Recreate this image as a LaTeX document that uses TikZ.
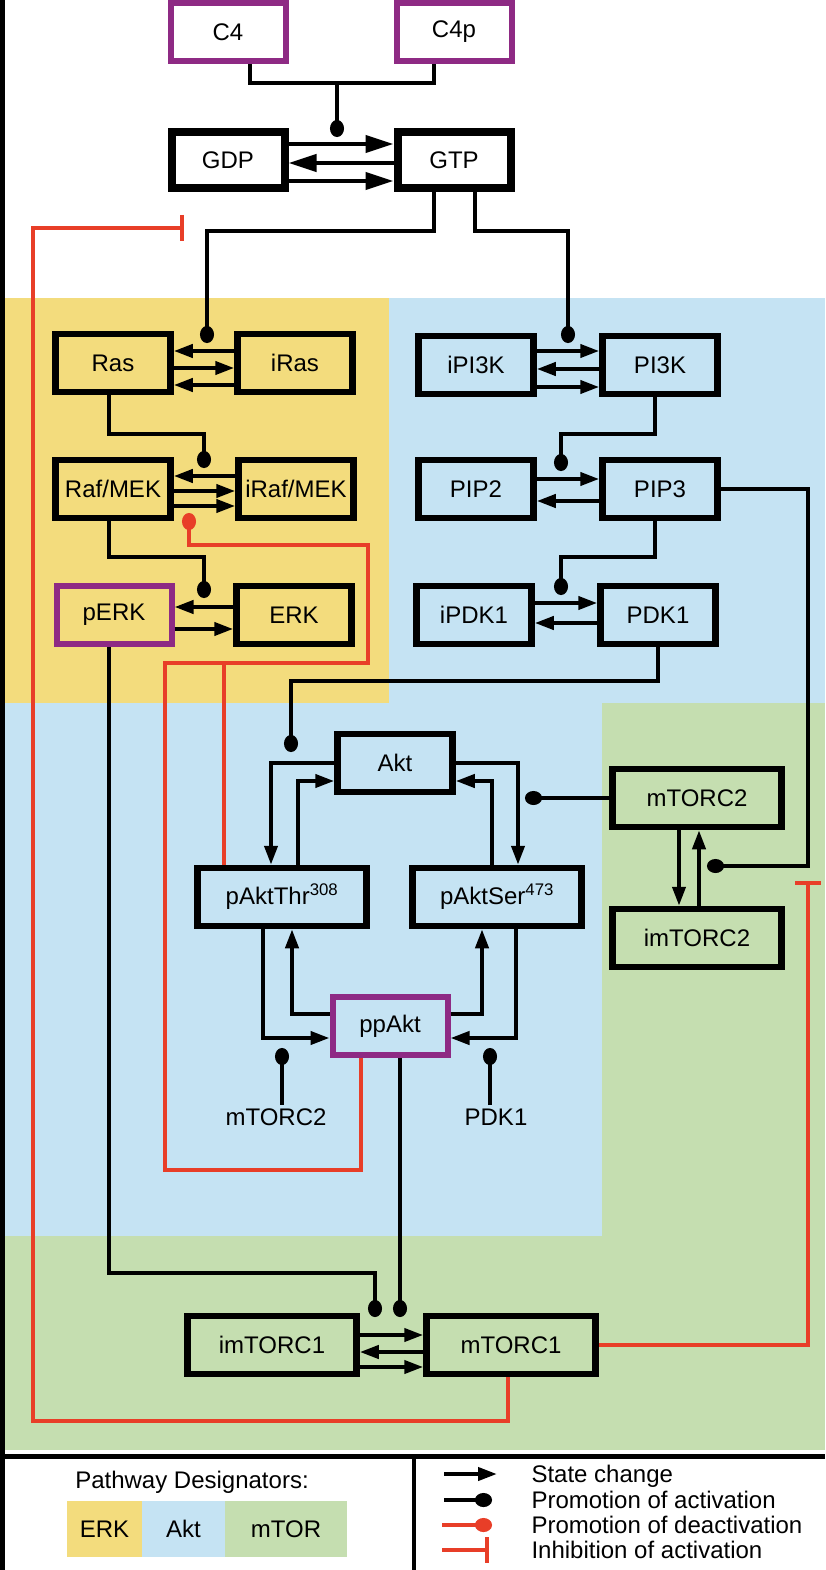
\documentclass[tikz,border=0pt]{standalone}
\usepackage{fontspec}
\setmainfont{Liberation Sans}
\usetikzlibrary{arrows.meta,positioning}
\definecolor{erkcol}{RGB}{243,220,125}
\definecolor{aktcol}{RGB}{197,227,243}
\definecolor{torcol}{RGB}{197,222,176}
\definecolor{purp}{RGB}{142,42,132}
\definecolor{redline}{RGB}{232,62,40}
\tikzset{
	x=1pt,
	y=-1pt,
	every node/.style={font=\fontsize{24}{28}\selectfont}
}
\begin{document}
\begin{tikzpicture}
  \tikzset{
    wire/.style={line width=4pt},
    change/.style={wire, -{Triangle[length=19pt,width=13pt]}},
    bigchange/.style={wire, -{Triangle[length=28pt,width=17pt]}},
    promote/.style={wire, -{Circle[length=17pt,width=14pt]}},
    deact/.style={wire, draw=redline},
    demote/.style={deact, -{Circle[length=17pt,width=14pt]}},
    inhibit/.style={deact, -{Bar[width=26pt]}},
    box/.style={draw, line width=6.5pt, minimum width=115pt,
          minimum height=58pt, inner sep=0pt},
    gbox/.style={box, line width=8pt, minimum width=113pt, minimum height=56pt},
    pbox/.style={box, draw=purp, line width=6pt},
    wbox/.style={box, minimum width=169pt},
    swatch/.style={minimum height=56pt, inner sep=0pt, outer sep=0pt}
  }
  \useasboundingbox (0,0) rectangle (825,1570);
  \fill[white] (0,0) rectangle (825,1570);

  % pathway areas
  \fill[erkcol] (0,298) rectangle (389,703);
  \fill[aktcol] (389,298) rectangle (825,703);
  \fill[aktcol] (0,703) rectangle (602,1236);
  \fill[torcol] (602,703) rectangle (825,1236);
  \fill[torcol] (0,1236) rectangle (825,1450);
  \fill[black] (0,0) rectangle (5,1570);
  \draw[line width=5pt] (0,1456) -- (825,1456);
  \draw[line width=4pt] (414,1456) -- (414,1570);

  \node[pbox] (C4) at (228,32) {C4};
  \node[pbox] (C4p) at (454,32) {C4p};
  \node[gbox] (GDP) at (228,160) {GDP};
  \node[gbox] (GTP) at (454,160) {GTP};

  \node[box] (Ras) at (113,363) {Ras};
  \node[box] (iRas) at (295,363) {iRas};
  \node[box] (RafMEK) at (113,489) {Raf/MEK};
  \node[box] (iRafMEK) at (296,489) {iRaf/MEK};
  \node[pbox] (pERK) at (114,615) {pERK};
  \node[box] (ERK) at (294,615) {ERK};

  \node[box] (iPI3K) at (476,365) {iPI3K};
  \node[box] (PI3K) at (660,365) {PI3K};
  \node[box] (PIP2) at (476,489) {PIP2};
  \node[box] (PIP3) at (660,489) {PIP3};
  \node[box] (iPDK1) at (474,615) {iPDK1};
  \node[box] (PDK1) at (658,615) {PDK1};

  \node[box] (Akt) at (395,763) {Akt};
  \node[wbox] (mTORC2) at (697,798) {mTORC2};
  \node[wbox] (imTORC2) at (697,938) {imTORC2};
  \node[wbox] (pAktThr) at (282,897) {pAktThr\textsuperscript{308}};
  \node[wbox] (pAktSer) at (497,897) {pAktSer\textsuperscript{473}};
  \node[pbox] (ppAkt) at (390,1026) {ppAkt};
  \node (tmTORC2) at (276,1117) {mTORC2};
  \node (tPDK1) at (496,1117) {PDK1};

  \node[wbox] (imTORC1) at (272,1345) {imTORC1};
  \node[wbox] (mTORC1) at (511,1345) {mTORC1};

  \coordinate (jC4) at (337,83);   \coordinate (dGDP) at (337,137);
  \coordinate (jRas) at (207,231); \coordinate (dRas) at (207,343);
  \coordinate (jPI) at (568,231);  \coordinate (dPI) at (568,343);
  \coordinate (jRaf) at (204,434); \coordinate (dRaf) at (204,468);
  \coordinate (jERK) at (204,557); \coordinate (dERK) at (204,598);
  \coordinate (jPIP) at (561,434); \coordinate (dPIP) at (561,471);
  \coordinate (jPDK) at (561,557); \coordinate (dPDK) at (561,595);
  \coordinate (jmT) at (808,866);  \coordinate (dmT) at (707,866);
  \coordinate (jAkt) at (291,681); \coordinate (dAkt) at (291,752);
  \coordinate (dSer) at (525,798);
  \coordinate (dPpThr) at (282,1048); \coordinate (dPpSer) at (490,1048);
  \coordinate (jTORa) at (375,1273);
  \coordinate (dTORa) at (375,1317); \coordinate (dTORb) at (400,1317);

  \draw[wire] ([xshift=22pt]C4.south) |- (jC4) -| ([xshift=-20pt]C4p.south);
  \draw[promote] (jC4) -- (dGDP);
  \draw[bigchange] ([yshift=16pt]GDP.east) -- ([yshift=16pt]GTP.west);
  \draw[bigchange] ([yshift=-3pt]GTP.west) -- ([yshift=-3pt]GDP.east);
  \draw[bigchange] ([yshift=-21pt]GDP.east) -- ([yshift=-21pt]GTP.west);
  \draw[promote] ([xshift=-20pt]GTP.south) |- (jRas) -- (dRas);
  \draw[promote] ([xshift=21pt]GTP.south) |- (jPI) -- (dPI);

  \draw[change] ([yshift=12pt]iRas.west) -- ([yshift=12pt]Ras.east);
  \draw[change] ([yshift=-5pt]Ras.east) -- ([yshift=-5pt]iRas.west);
  \draw[change] ([yshift=-22pt]iRas.west) -- ([yshift=-22pt]Ras.east);
  \draw[promote] ([xshift=-4pt]Ras.south) |- (jRaf) -- (dRaf);
  \draw[change] ([yshift=13pt]iRafMEK.west) -- ([yshift=13pt]RafMEK.east);
  \draw[change] ([yshift=-2pt]RafMEK.east) -- ([yshift=-2pt]iRafMEK.west);
  \draw[change] ([yshift=-17pt]RafMEK.east) -- ([yshift=-17pt]iRafMEK.west);
  \draw[promote] ([xshift=-4pt]RafMEK.south) |- (jERK) -- (dERK);
  \draw[change] ([yshift=8pt]ERK.west) -- ([yshift=8pt]pERK.east);
  \draw[change] ([yshift=-14pt]pERK.east) -- ([yshift=-14pt]ERK.west);

  \draw[change] ([yshift=14pt]iPI3K.east) -- ([yshift=14pt]PI3K.west);
  \draw[change] ([yshift=-4pt]PI3K.west) -- ([yshift=-4pt]iPI3K.east);
  \draw[change] ([yshift=-22pt]iPI3K.east) -- ([yshift=-22pt]PI3K.west);
  \draw[promote] ([xshift=-5pt]PI3K.south) |- (jPIP) -- (dPIP);
  \draw[change] ([yshift=10pt]PIP2.east) -- ([yshift=10pt]PIP3.west);
  \draw[change] ([yshift=-12pt]PIP3.west) -- ([yshift=-12pt]PIP2.east);
  \draw[promote] ([xshift=-5pt]PIP3.south) |- (jPDK) -- (dPDK);
  \draw[promote] (PIP3.east) -| (jmT) -- (dmT);
  \draw[change] ([yshift=12pt]iPDK1.east) -- ([yshift=12pt]PDK1.west);
  \draw[change] ([yshift=-8pt]PDK1.west) -- ([yshift=-8pt]iPDK1.east);
  \draw[promote] (PDK1.south) |- (jAkt) -- (dAkt);

  \draw[change] (Akt.west) -| ([xshift=-11pt]pAktThr.north);
  \draw[change] ([xshift=16pt]pAktThr.north) |- ([yshift=-18pt]Akt.west);
  \draw[change] (Akt.east) -| ([xshift=21pt]pAktSer.north);
  \draw[change] ([xshift=-5pt]pAktSer.north) |- ([yshift=-18pt]Akt.east);
  \draw[promote] (mTORC2.west) -- (dSer);
  \draw[change] ([xshift=-18pt]mTORC2.south) -- ([xshift=-18pt]imTORC2.north);
  \draw[change] ([xshift=2pt]imTORC2.north) -- ([xshift=2pt]mTORC2.south);
  \draw[change] ([xshift=-19pt]pAktThr.south) |- ([yshift=-12pt]ppAkt.west);
  \draw[change] ([yshift=12pt]ppAkt.west) -| ([xshift=10pt]pAktThr.south);
  \draw[change] ([xshift=19pt]pAktSer.south) |- ([yshift=-12pt]ppAkt.east);
  \draw[change] ([yshift=12pt]ppAkt.east) -| ([xshift=-15pt]pAktSer.south);
  \draw[promote] (tmTORC2.north -| dPpThr) -- (dPpThr);
  \draw[promote] (tPDK1.north -| dPpSer) -- (dPpSer);

  \draw[promote] ([xshift=-5pt]pERK.south) |- (jTORa) -- (dTORa);
  \draw[promote] ([xshift=10pt]ppAkt.south) -- (dTORb);
  \draw[change] ([yshift=10pt]imTORC1.east) -- ([yshift=10pt]mTORC1.west);
  \draw[change] ([yshift=-7pt]mTORC1.west) -- ([yshift=-7pt]imTORC1.east);
  \draw[change] ([yshift=-22pt]imTORC1.east) -- ([yshift=-22pt]mTORC1.west);

  % red feedback
  \coordinate (jRa) at (33,1421);   \coordinate (iGDP) at (184,228);
  \coordinate (iTOR2) at (808,881);
  \coordinate (jRc) at (165,1170);  \coordinate (jRd) at (368,663);
  \coordinate (jRe) at (189,545);   \coordinate (dRafRed) at (189,513);
  \coordinate (jRf) at (224,663);
  \draw[inhibit] ([xshift=-3pt]mTORC1.south) |- (jRa) |- (iGDP);
  \draw[inhibit] (mTORC1.east) -| (iTOR2);
  \draw[demote] ([xshift=-29pt]ppAkt.south) |- (jRc) |- (jRd) |- (jRe) -- (dRafRed);
  \draw[deact] ([xshift=-58pt]pAktThr.north) -- (jRf);

  % legend
  \node (tDesig) at (192,1482) {Pathway Designators:};
  \node[swatch, fill=erkcol, minimum width=75pt] (sERK) at (104.5,1529) {ERK};
  \node[swatch, fill=aktcol, minimum width=83pt, right=0pt of sERK] (sAkt) {Akt};
  \node[swatch, fill=torcol, minimum width=122pt, right=0pt of sAkt] (sTOR) {mTOR};
  \node[anchor=base west] (lgChange) at (528,1482) {State change};
  \node[anchor=base west] (lgPromo) at (528,1508) {Promotion of activation};
  \node[anchor=base west] (lgDeact) at (528,1533) {Promotion of deactivation};
  \node[anchor=base west] (lgInhib) at (528,1558) {Inhibition of activation};
  \coordinate (kA) at (444,1474); \coordinate (kB) at (497,1474);
  \coordinate (kC) at (444,1500); \coordinate (kD) at (492,1500);
  \coordinate (kE) at (442,1525); \coordinate (kF) at (492,1525);
  \coordinate (kG) at (442,1550); \coordinate (kH) at (489,1550);
  \draw[change] (kA) -- (kB);
  \draw[promote] (kC) -- (kD);
  \draw[demote] (kE) -- (kF);
  \draw[inhibit] (kG) -- (kH);
\end{tikzpicture}
\end{document}
